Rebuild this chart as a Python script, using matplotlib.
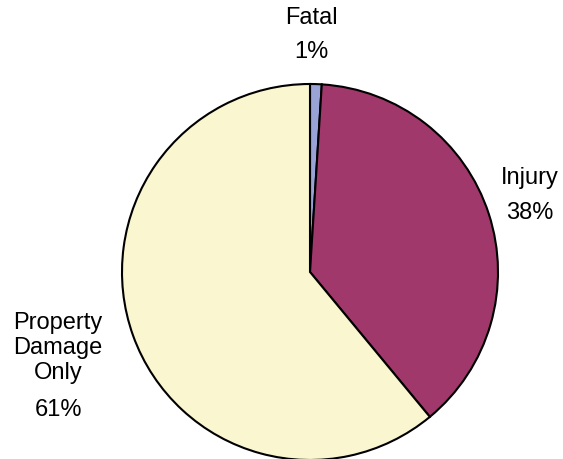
import matplotlib
matplotlib.use('agg')
import matplotlib.pyplot as plt

# Crash severity shares
categories = ["Fatal", "Injury", "Property\nDamage\nOnly"]
shares = [1, 38, 61]
colors = ["#9aa3d6", "#a0386b", "#faf6d0"]

plt.rcParams['font.family'] = ['Liberation Sans', 'DejaVu Sans']

W, H = 563, 459
fig = plt.figure(figsize=(W / 100, H / 100), dpi=100)
ax = fig.add_axes([0, 0, 1, 1])

# Pie drawn clockwise from twelve o'clock
ax.pie(shares, colors=colors, startangle=90, counterclock=False,
       center=(310, H - 272), radius=188, frame=True,
       wedgeprops=dict(edgecolor='black', linewidth=1.5))
ax.set_xlim(0, W)
ax.set_ylim(0, H)
ax.set_aspect('equal')
ax.axis('off')

# Category names and percentages placed outside the pie
label_pos = [(311, 18, 52), (530, 178, 213), (58, 348, 410)]
for name, val, (x, y_name, y_pct) in zip(categories, shares, label_pos):
    ax.text(x, H - y_name, name, ha='center', va='center', fontsize=17,
            linespacing=1.15)
    ax.text(x, H - y_pct, f"{val}%", ha='center', va='center', fontsize=17)

fig.savefig("out.png", dpi=100)
